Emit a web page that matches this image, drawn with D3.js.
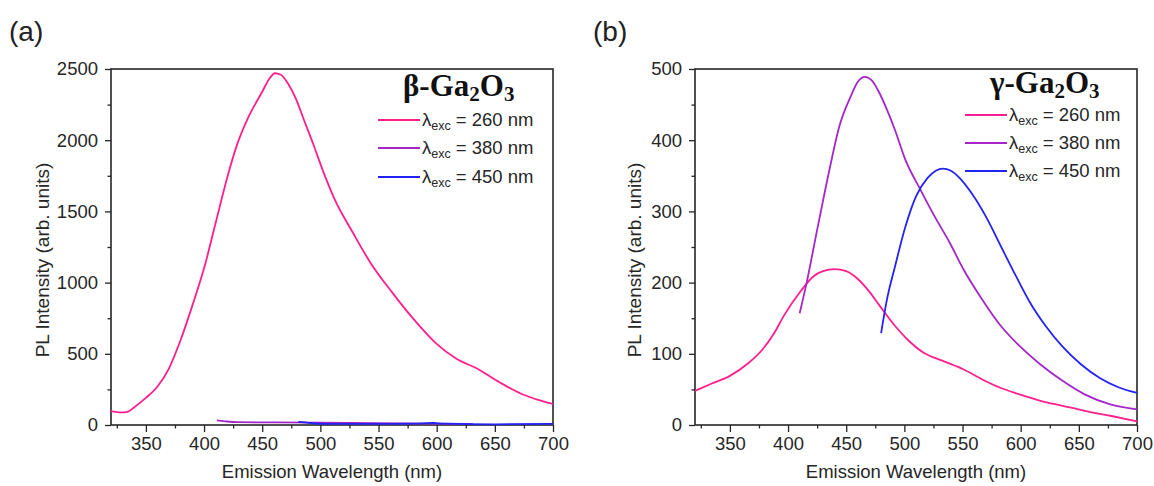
<!DOCTYPE html>
<html>
<head>
<meta charset="utf-8">
<script src="https://cdn.jsdelivr.net/npm/d3@7"></script>
<style>
  body { margin: 0; background: #fff; }
  svg { display: block; font-family: "Liberation Sans", Arial, sans-serif; }
</style>
</head>
<body>
<div id="root"></div>
<script>
// Data ///////////////////////////////////////////
const xTicks = [350, 400, 450, 500, 550, 600, 650, 700];
const xMinor = [325, 375, 425, 475, 525, 575, 625, 675];
const yTicksA = [0, 500, 1000, 1500, 2000, 2500];
const yMinorA = [250, 750, 1250, 1750, 2250];
const yTicksB = [0, 100, 200, 300, 400, 500];
const yMinorB = [50, 150, 250, 350, 450];

const seriesNames = ['260', '380', '450'];
const seriesColors = ['#ff1f8f', '#a526c9', '#2323f5'];

// (a) beta-Ga2O3
const waveA260 = [320, 324, 329, 334, 340, 350, 360, 370, 380, 390, 400, 410, 420, 428, 438, 450, 456, 461, 466, 472, 479, 486, 494, 502, 512, 528, 543, 562, 580, 599, 617, 635, 654, 673, 688, 700];
const plA260 = [98, 92, 88, 92, 125, 190, 270, 400, 600, 840, 1100, 1420, 1740, 1960, 2160, 2340, 2430, 2470, 2460, 2400, 2290, 2140, 1970, 1790, 1590, 1350, 1140, 928, 745, 577, 465, 395, 300, 218, 175, 148];
const waveA380 = [411, 418, 428, 460, 500, 549, 600, 631];
const plA380 = [32, 26, 20, 18, 16, 13, 10, 7];
const waveA450 = [481, 490, 505, 550, 580, 597, 605, 650, 697, 700];
const plA450 = [22, 15, 8, 8, 9, 14, 10, 5, 8, 10];

// (b) gamma-Ga2O3
const waveB260 = [320, 334, 350, 366, 378, 388, 397, 410, 422, 430, 440, 450, 460, 470, 479, 492, 504, 517, 533, 551, 567, 583, 599, 617, 636, 655, 677, 700];
const plB260 = [48, 58, 69, 87, 106, 129, 155, 186, 209, 216, 219, 216, 205, 187, 167, 139, 118, 101, 90, 78, 64, 52, 43, 34, 27, 20, 13, 5];
const waveB380 = [410, 416, 425, 435, 444, 454, 460, 466, 472, 478, 485, 492, 501, 514, 526, 539, 551, 567, 583, 599, 617, 636, 655, 677, 700];
const plB380 = [157, 200, 274, 354, 419, 462, 482, 489, 484, 468, 443, 414, 372, 330, 293, 256, 218, 176, 139, 111, 85, 62, 43, 29, 22];
const waveB450 = [480, 485, 492, 501, 510, 520, 527, 533, 540, 548, 558, 570, 583, 596, 608, 621, 636, 652, 668, 684, 700];
const plB450 = [129, 176, 223, 279, 321, 347, 357, 360, 357, 346, 325, 293, 251, 209, 172, 140, 110, 85, 66, 53, 45];

// Chart ////////////////////////////////////////////////////////////////
const width = 1154;
const height = 486;
const svg = d3.select('#root').append('svg').attr('width', width).attr('height', height);

function drawPanel(cfg) {
  const w = 442, h = 356;
  const g = svg.append('g').attr('transform', `translate(${cfg.left}, ${cfg.top})`);

  const x = d3.scaleLinear().domain([320, 700]).range([0, w]);
  const y = d3.scaleLinear().domain([0, cfg.yMax]).range([h, 0]);

  // minor ticks
  g.append('g')
    .attr('transform', `translate(0, ${h})`)
    .call(d3.axisBottom(x).tickValues(xMinor).tickSize(3.5).tickFormat(''))
    .call((a) => a.select('.domain').remove());
  g.append('g')
    .call(d3.axisLeft(y).tickValues(cfg.yMinor).tickSize(3.5).tickFormat(''))
    .call((a) => a.select('.domain').remove());

  // major ticks
  const xAxis = g.append('g')
    .attr('transform', `translate(0, ${h})`)
    .call(d3.axisBottom(x).tickValues(xTicks).tickSize(7).tickPadding(5).tickFormat(d3.format('d')));
  const yAxis = g.append('g')
    .call(d3.axisLeft(y).tickValues(cfg.yTicks).tickSize(6).tickPadding(7).tickFormat(d3.format('d')));

  [xAxis, yAxis].forEach((a) => {
    a.selectAll('text').style('font-size', '18.5px').attr('fill', '#262626');
    a.select('.domain').remove();
  });
  g.selectAll('.tick line').attr('stroke', '#262626').attr('stroke-width', 1.3);

  // frame
  g.append('rect')
    .attr('width', w).attr('height', h)
    .attr('fill', 'none').attr('stroke', '#262626').attr('stroke-width', 1.6);

  // curves
  const line = d3.line()
    .x((d) => x(d[0]))
    .y((d) => y(d[1]))
    .curve(d3.curveMonotoneX);

  cfg.series.forEach((s, i) => {
    const pts = s.wave.map((wl, k) => [wl, s.pl[k]]);
    g.append('path')
      .datum(pts)
      .attr('d', line)
      .attr('fill', 'none')
      .attr('stroke', seriesColors[i])
      .attr('stroke-width', 1.8);
  });

  // axis titles
  g.append('text')
    .attr('x', w / 2).attr('y', h + 53)
    .attr('text-anchor', 'middle')
    .style('font-size', '18.5px').attr('fill', '#262626')
    .text('Emission Wavelength (nm)');
  g.append('text')
    .attr('transform', `translate(${cfg.yTitleX}, ${191}) rotate(-90)`)
    .attr('text-anchor', 'middle')
    .style('font-size', '19px').attr('fill', '#262626')
    .text('PL Intensity (arb. units)');

  // panel letter
  svg.append('text')
    .attr('x', cfg.letterX).attr('y', 41)
    .style('font-size', '28px').attr('fill', '#222')
    .text(cfg.letter);

  // legend
  const lg = g.append('g').attr('transform', `translate(${cfg.legendX}, 0)`);
  const title = lg.append('text')
    .attr('x', cfg.titleX).attr('y', cfg.titleY)
    .style('font-family', '"Liberation Serif", "Times New Roman", serif')
    .style('font-weight', 'bold')
    .style('font-size', '31px')
    .attr('fill', '#111');
  title.append('tspan').text(cfg.phase + '-Ga');
  title.append('tspan').text('2').style('font-size', '21px').attr('dy', 5);
  title.append('tspan').text('O').attr('dy', -5);
  title.append('tspan').text('3').style('font-size', '21px').attr('dy', 5);

  seriesNames.forEach((name, i) => {
    const ly = cfg.legendY[i];
    lg.append('line')
      .attr('x1', 0).attr('x2', 42)
      .attr('y1', ly).attr('y2', ly)
      .attr('stroke', seriesColors[i]).attr('stroke-width', 1.8);
    const t = lg.append('text')
      .attr('x', 44).attr('y', ly + 6)
      .style('font-size', '18.5px').attr('fill', '#262626');
    t.append('tspan').text('λ');
    t.append('tspan').text('exc').style('font-size', '12.5px').attr('dy', 4);
    t.append('tspan').text(` = ${name} nm`).attr('dy', -4);
  });
}

drawPanel({
  left: 111, top: 69, yMax: 2500, yTicks: yTicksA, yMinor: yMinorA,
  yTitleX: -62, letter: '(a)', letterX: 9, phase: 'β',
  legendX: 267, titleX: 25, titleY: 27, legendY: [51, 79, 108],
  series: [
    { wave: waveA260, pl: plA260 },
    { wave: waveA380, pl: plA380 },
    { wave: waveA450, pl: plA450 },
  ],
});

drawPanel({
  left: 695, top: 69, yMax: 500, yTicks: yTicksB, yMinor: yMinorB,
  yTitleX: -54, letter: '(b)', letterX: 593, phase: 'γ',
  legendX: 270, titleX: 25, titleY: 24, legendY: [46, 74, 102],
  series: [
    { wave: waveB260, pl: plB260 },
    { wave: waveB380, pl: plB380 },
    { wave: waveB450, pl: plB450 },
  ],
});
</script>
</body>
</html>
